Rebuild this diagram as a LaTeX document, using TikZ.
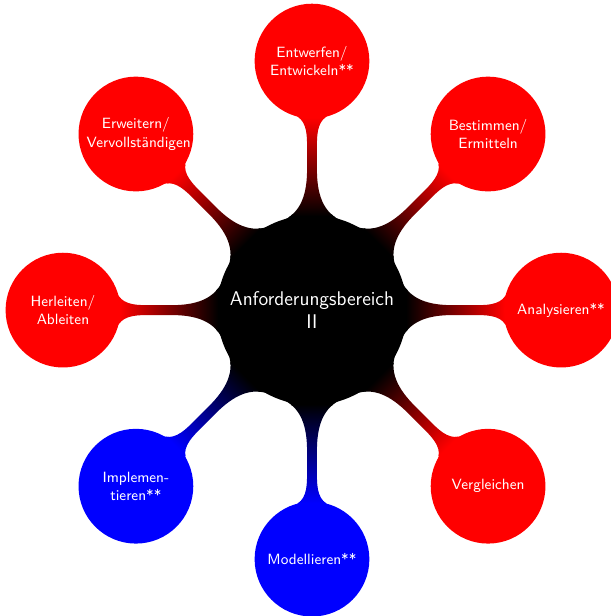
\documentclass[tikz,border=0pt]{standalone}
\usetikzlibrary{mindmap}
\tikzset{
  area/.style={
    concept, concept color=red, text=white, align=center,
    minimum size=2.4cm, text width=2.1cm, font=\sffamily\small
  },
  areab/.style={area, concept color=blue},
  hub/.style={
    concept, concept color=black, text=white, align=center,
    minimum size=4cm, text width=3.6cm, font=\sffamily\large
  },
  tored/.style={circle connection bar switch color=from (black) to (red)},
  toblue/.style={circle connection bar switch color=from (black) to (blue)},
}
\begin{document}
\begin{tikzpicture}[mindmap]
  \useasboundingbox (-6.64,-6.51) rectangle (6.36,6.6);
  \node[hub] (ab) at (0,0) {Anforderungsbereich\\II};
  \node[area] (entw) at (90:5.3) {Entwerfen/\\Entwickeln**};
  \node[area] (best) at (45:5.3) {Bestimmen/\\Ermitteln};
  \node[area] (anal) at (0:5.3) {Analysieren**};
  \node[area] (vergl) at (-45:5.3) {Vergleichen};
  \node[areab] (mod) at (-90:5.3) {Modellieren**};
  \node[areab] (impl) at (-135:5.3) {Implemen-\\tieren**};
  \node[area] (herl) at (180:5.3) {Herleiten/\\Ableiten};
  \node[area] (erw) at (135:5.3) {Erweitern/\\Vervollständigen};
  \path (ab) to[tored] (entw);
  \path (ab) to[tored] (best);
  \path (ab) to[tored] (anal);
  \path (ab) to[tored] (vergl);
  \path (ab) to[toblue] (mod);
  \path (ab) to[toblue] (impl);
  \path (ab) to[tored] (herl);
  \path (ab) to[tored] (erw);
\end{tikzpicture}
\end{document}
